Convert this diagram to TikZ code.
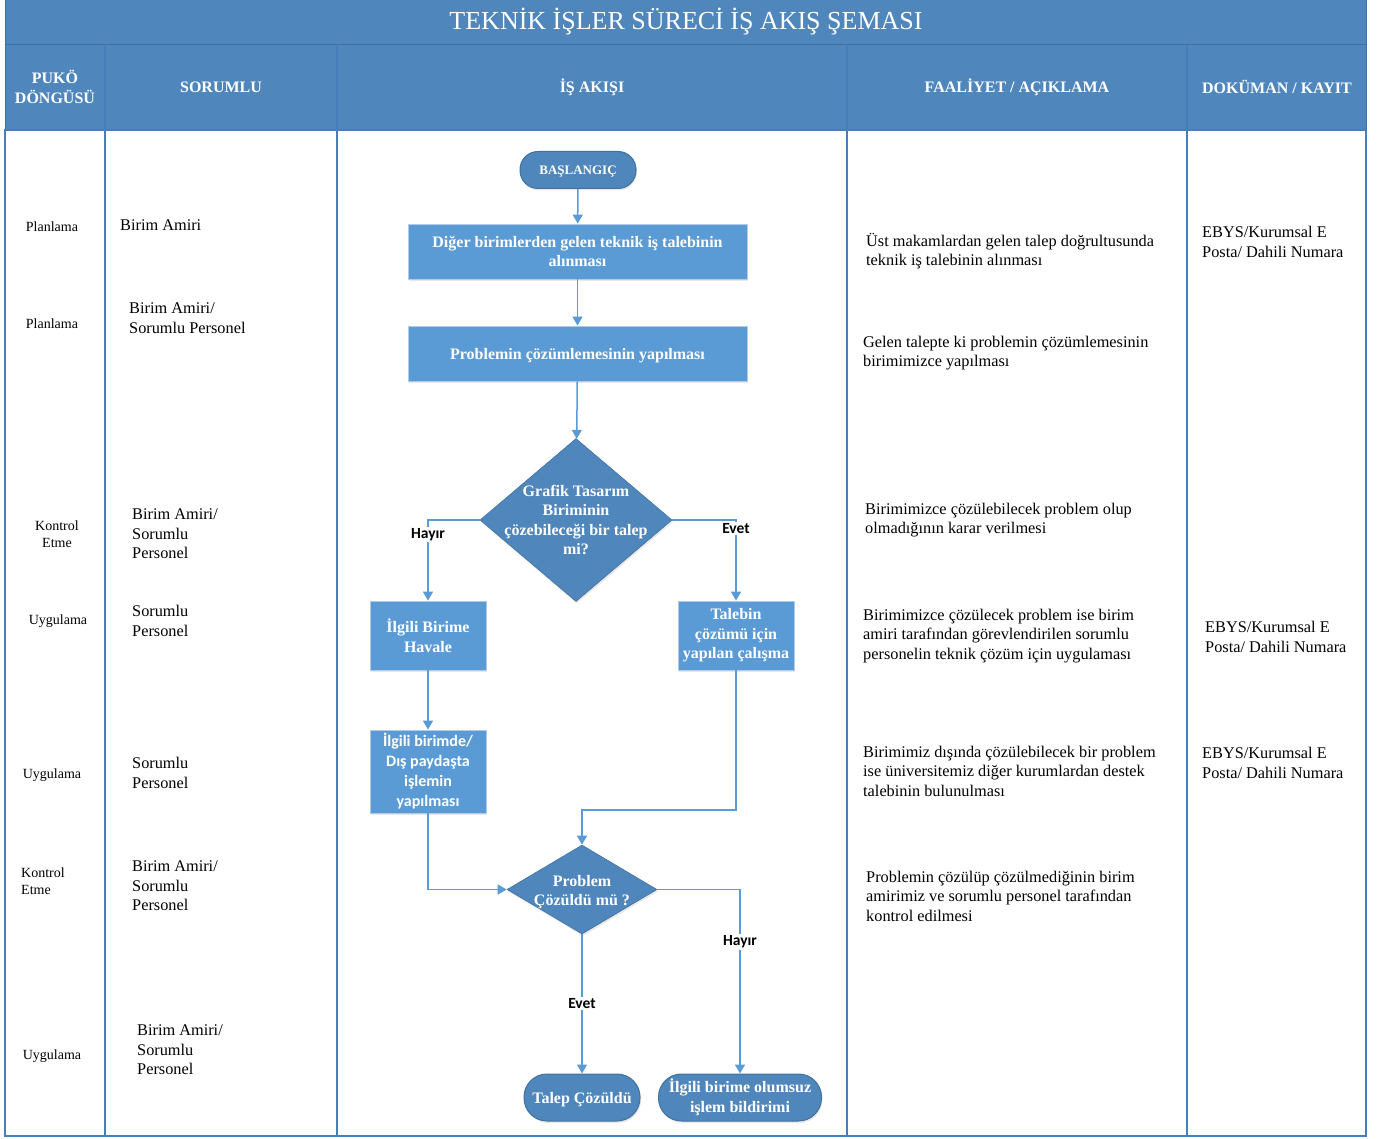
\documentclass[tikz,border=0pt]{standalone}
\usepackage{fontspec}
\setmainfont{Liberation Serif}
\newfontfamily\calibri{Carlito}
\usetikzlibrary{shapes.geometric,arrows.meta,shadows}

\definecolor{hdrblue}{HTML}{4F86BC}
\definecolor{hdrline}{HTML}{3F6FA3}
\definecolor{frameblue}{HTML}{4A7EBB}
\definecolor{boxblue}{HTML}{5B9BD5}
\definecolor{boxedge}{HTML}{B4C9E6}
\definecolor{termblue}{HTML}{4F86BC}
\definecolor{termedge}{HTML}{41719C}
\definecolor{arrowblue}{HTML}{5B9BD5}

\tikzset{
  process/.style={rectangle, fill=boxblue, draw=boxedge, line width=0.8pt, text=white,
    align=center, inner sep=0pt, font=\bfseries\fontsize{16}{19.5}\selectfont,
    drop shadow={shadow xshift=1pt, shadow yshift=-2pt, opacity=0.18}},
  terminal/.style={process, fill=termblue, draw=termedge, line width=1pt},
  decision/.style={diamond, fill=termblue, draw=termblue!85!black, line width=0.6pt,
    inner sep=0pt, drop shadow={shadow xshift=1pt, shadow yshift=-2pt, opacity=0.18}},
  dtext/.style={text=white, align=center, font=\bfseries\fontsize{16}{19.5}\selectfont},
  arr/.style={draw=arrowblue, line width=1.5pt, -{Triangle[length=9pt,width=10pt]}},
  lbl/.style={fill=white, inner sep=1.5pt, font=\calibri\bfseries\fontsize{15.5}{18}\selectfont},
  head/.style={text=white, align=center, font=\bfseries\fontsize{16}{20}\selectfont},
  puko/.style={align=center, inner sep=0pt, font=\fontsize{14}{17}\selectfont},
  body/.style={anchor=west, align=left, inner sep=0pt, font=\fontsize{16.3}{19.5}\selectfont}
}

\begin{document}
\begin{tikzpicture}[x=1pt,y=-1pt]
\useasboundingbox (0,0) rectangle (1381,1139);

% tablo
\fill[hdrblue] (5,0) rectangle (1366,130);
\draw[hdrline, line width=1pt] (5,45) -- (1366,45);
\draw[frameblue, line width=2pt] (5,130) rectangle (1366,1136);
\draw[hdrline, line width=1pt] (5,0) -- (5,130) (1366,0) -- (1366,130);
\foreach \x in {105,337,847,1187}
  \draw[frameblue, line width=1.6pt] (\x,45) -- (\x,1136);

\node[text=white, font=\fontsize{26}{30}\selectfont] (title) at (686,22) {TEKNİK İŞLER SÜRECİ İŞ AKIŞ ŞEMASI};
\node[head] (h1) at (55,87) {PUKÖ\\DÖNGÜSÜ};
\node[head] (h2) at (221,87) {SORUMLU};
\node[head] (h3) at (592,87) {İŞ AKIŞI};
\node[head] (h4) at (1017,87) {FAALİYET / AÇIKLAMA};
\node[head] (h5) at (1277,87) {DOKÜMAN / KAYIT};

% puko
\node[puko] (p1) at (52,227) {Planlama};
\node[puko] (p2) at (52,324) {Planlama};
\node[puko] (p3) at (57,534) {Kontrol\\Etme};
\node[puko] (p4) at (58,621) {Uygulama};
\node[puko] (p5) at (52,775) {Uygulama};
\node[puko, anchor=west, align=left] (p6) at (21,881) {Kontrol\\Etme};
\node[puko] (p7) at (52,1056) {Uygulama};

% sorumlu
\node[body] (s1) at (120,225) {Birim Amiri};
\node[body] (s2) at (129,318) {Birim Amiri/\\Sorumlu Personel};
\node[body] (s3) at (132,534) {Birim Amiri/\\Sorumlu\\Personel};
\node[body] (s4) at (132,621) {Sorumlu\\Personel};
\node[body] (s5) at (132,773) {Sorumlu\\Personel};
\node[body] (s6) at (132,886) {Birim Amiri/\\Sorumlu\\Personel};
\node[body] (s7) at (137,1050) {Birim Amiri/\\Sorumlu\\Personel};

% faaliyet
\node[body] (f1) at (866,251) {Üst makamlardan gelen talep doğrultusunda\\teknik iş talebinin alınması};
\node[body] (f2) at (863,353) {Gelen talepte ki problemin çözümlemesinin\\birimimizce yapılması};
\node[body] (f3) at (865,520) {Birimimizce çözülebilecek problem olup\\olmadığının karar verilmesi};
\node[body] (f4) at (863,636) {Birimimizce çözülecek problem ise birim\\amiri tarafından görevlendirilen sorumlu\\personelin teknik çözüm için uygulaması};
\node[body] (f5) at (863,771) {Birimimiz dışında çözülebilecek bir problem\\ise üniversitemiz diğer kurumlardan destek\\talebinin bulunulması};
\node[body] (f6) at (866,896) {Problemin çözülüp çözülmediğinin birim\\amirimiz ve sorumlu personel tarafından\\kontrol edilmesi};

% dokuman
\node[body] (k1) at (1202,242) {EBYS/Kurumsal E\\Posta/ Dahili Numara};
\node[body] (k2) at (1205,637) {EBYS/Kurumsal E\\Posta/ Dahili Numara};
\node[body] (k3) at (1202,763) {EBYS/Kurumsal E\\Posta/ Dahili Numara};

% akis
\node[terminal, minimum width=116pt, minimum height=37pt, rounded corners=18pt, text depth=0pt,
  font=\bfseries\fontsize{13}{15}\selectfont] (start) at (578,170) {BAŞLANGIÇ};
\node[process, minimum width=339pt, minimum height=55pt] (b1) at (577.5,251.5) {Diğer birimlerden gelen teknik iş talebinin\\alınması};
\node[process, minimum width=339pt, minimum height=55pt, text depth=0pt] (b2) at (577.5,353.5) {Problemin çözümlemesinin yapılması};
\node[decision, minimum width=192pt, minimum height=163pt,
  label={[dtext]center:{Grafik Tasarım\\Biriminin\\çözebileceği bir talep\\mi?}}] (d1) at (576,520) {};
\node[process, minimum width=116pt, minimum height=69pt] (havale) at (428,635.5) {İlgili Birime\\Havale};
\node[process, minimum width=116pt, minimum height=69pt] (talebin) at (736,635.5) {Talebin\\çözümü için\\yapılan çalışma};
\node[process, minimum width=116pt, minimum height=83pt,
  font=\calibri\bfseries\fontsize{16}{20}\selectfont] (birimde) at (428,771.5) {İlgili birimde/\\Dış paydaşta\\işlemin\\yapılması};
\node[decision, minimum width=150pt, minimum height=89pt,
  label={[dtext, yshift=-2.5pt]center:{Problem\\Çözüldü mü ?}}] (d2) at (582,889.5) {};
\node[terminal, minimum width=116pt, minimum height=47pt, rounded corners=23pt, text depth=0pt] (cozuldu) at (582,1097.5) {Talep Çözüldü};
\node[terminal, minimum width=163pt, minimum height=47pt, rounded corners=23pt] (olumsuz) at (740,1097.5) {İlgili birime olumsuz\\işlem bildirimi};
\coordinate (jn) at (582,810);

\draw[arr] (start) -- (b1);
\draw[arr] (b1) -- (b2);
\draw[arr] (b2) -- (d1);
\draw[arr] (d1.west) -| node[lbl, pos=0.59] {Hayır} (havale.north);
\draw[arr] (d1.east) -| node[lbl, pos=0.555] {Evet} (talebin.north);
\draw[arr] (havale) -- (birimde);
\draw[arr] (talebin.south) |- (jn) -- (d2.north);
\draw[arr] (birimde.south) |- (d2.west);
\draw[arr] (d2.south) -- node[lbl] {Evet} (cozuldu.north);
\draw[arr] (d2.east) -| node[lbl, pos=0.643] {Hayır} (olumsuz.north);
\end{tikzpicture}
\end{document}
